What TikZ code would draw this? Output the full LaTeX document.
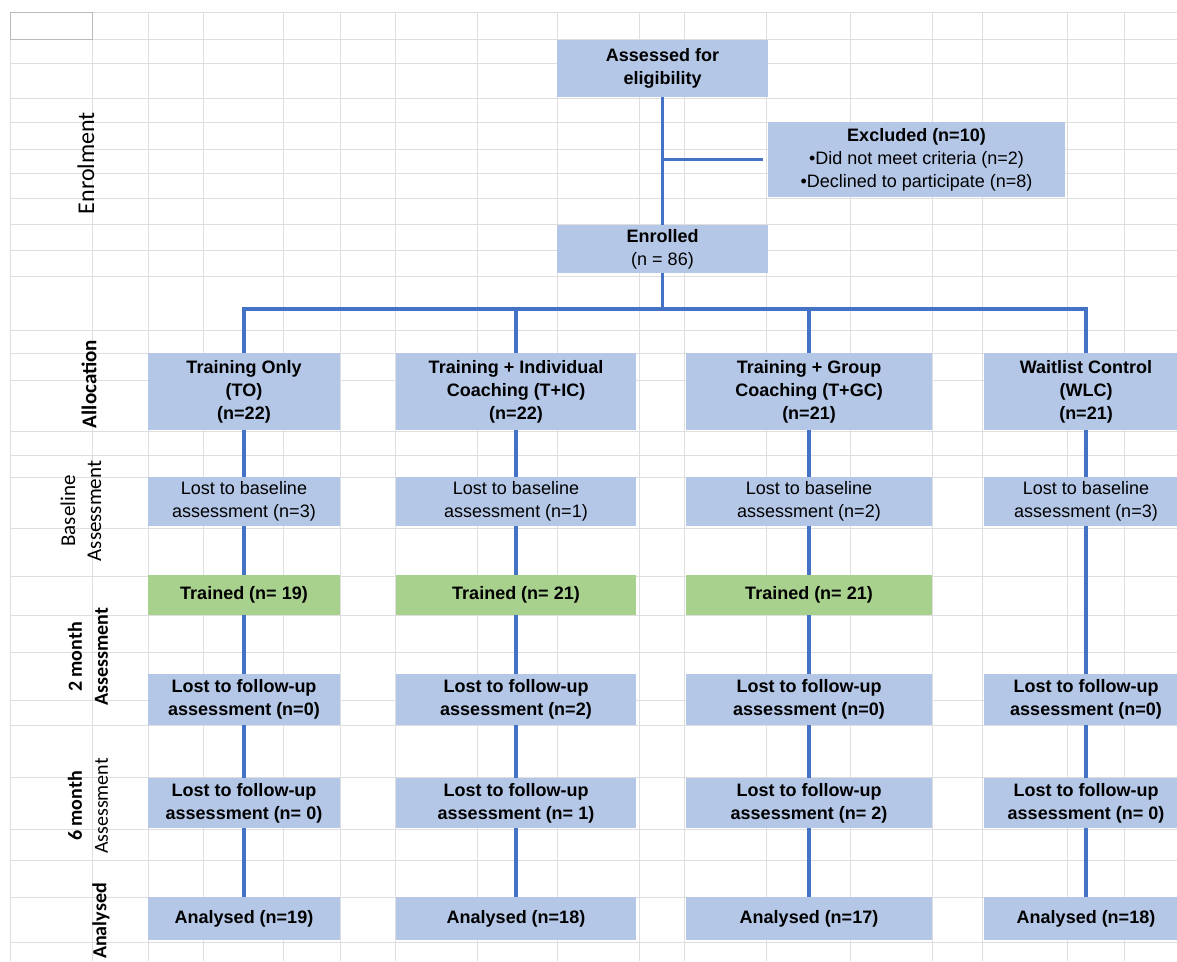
\documentclass[tikz,border=0pt]{standalone}
\usepackage{fontspec}
\setmainfont{Liberation Sans}
\newfontfamily\lblfont{Carlito}
\usepackage{xcolor}
\definecolor{boxblue}{RGB}{180,199,231}
\definecolor{boxgreen}{RGB}{169,209,142}
\definecolor{linkblue}{RGB}{68,114,196}
\definecolor{cellgrid}{RGB}{222,222,222}

\begin{document}
\begin{tikzpicture}[x=1pt,y=-1pt,
   box/.style={fill=boxblue,inner sep=0pt,align=center,font=\fontsize{18}{23}\selectfont},
   hd/.style={box,font=\fontsize{18}{23}\selectfont\bfseries},
   trained/.style={hd,fill=boxgreen},
   col1/.style={minimum width=192pt},
   col2/.style={minimum width=240pt},
   col3/.style={minimum width=246pt},
   col4/.style={minimum width=204pt},
   link/.style={draw=linkblue,line width=3.4pt},
   side/.style={rotate=90,align=center,inner sep=0pt,font=\lblfont\fontsize{21}{26}\selectfont}]
   \useasboundingbox (0,0) rectangle (1177,961);
   \clip (0,0) rectangle (1177,961);
   \fill[white] (0,0) rectangle (1177,961);

   % spreadsheet cells behind
   \foreach \gx in {10,92,148,203,283,340,395,477,557,639,684,766,850,932,982,1067,1124}
      \draw[cellgrid,line width=0.8pt] (\gx,12) -- (\gx,961);
   \foreach \gy in {12,39,63,98,122,149,173,198,224,250,276,330,353,380,431,455,477,528,576,615,652,700,725,777,829,860,897,942}
      \draw[cellgrid,line width=0.8pt] (10,\gy) -- (1177,\gy);
   \draw[gray!55,line width=0.8pt] (10,12) rectangle (92,39);

   % stage labels
   \node[side,font=\lblfont\fontsize{24}{28}\selectfont] (lenr) at (86,163) {Enrolment};
   \node[side,font=\lblfont\fontsize{21}{26}\selectfont\bfseries] (lall) at (89,384) {Allocation};
   \node[side] (lbase) at (81,511) {Baseline\\Assessment};
   \node[side,font=\lblfont\fontsize{20}{26}\selectfont\bfseries] (l2m) at (88,657) {2 month\\Assessment};
   \node[side,font=\lblfont\fontsize{20}{26}\selectfont] (l6m) at (88,806) {{\bfseries 6 month}\\Assessment};
   \node[side,font=\lblfont\fontsize{20}{26}\selectfont\bfseries] (lan) at (101,921) {Analysed};

   % enrolment
   \node[hd,minimum width=211pt,minimum height=57pt] (elig) at (662.5,68.5) {Assessed for\\eligibility};
   \node[box,minimum width=297pt,minimum height=75pt] (excl) at (916.5,159.5)
      {\textbf{Excluded (n=10)}\\{\textbullet}Did not meet criteria (n=2)\\{\textbullet}Declined to participate (n=8)};
   \node[box,minimum width=211pt,minimum height=48pt] (enr) at (662.5,249) {\textbf{Enrolled}\\(n = 86)};
   \coordinate (bus) at (0,309);

   % allocation
   \node[hd,col1,minimum height=77pt] (a1) at (244,391.5) {Training Only\\(TO)\\(n=22)};
   \node[hd,col2,minimum height=77pt] (a2) at (516,391.5) {Training + Individual\\Coaching (T+IC)\\(n=22)};
   \node[hd,col3,minimum height=77pt] (a3) at (809,391.5) {Training + Group\\Coaching (T+GC)\\(n=21)};
   \node[hd,col4,minimum height=77pt] (a4) at (1086,391.5) {Waitlist Control\\(WLC)\\(n=21)};

   % baseline
   \node[box,col1,minimum height=49pt] (b1) at (244,501.5) {Lost to baseline\\assessment (n=3)};
   \node[box,col2,minimum height=49pt] (b2) at (516,501.5) {Lost to baseline\\assessment (n=1)};
   \node[box,col3,minimum height=49pt] (b3) at (809,501.5) {Lost to baseline\\assessment (n=2)};
   \node[box,col4,minimum height=49pt] (b4) at (1086,501.5) {Lost to baseline\\assessment (n=3)};

   \node[trained,col1,minimum height=40pt] (t1) at (244,595) {Trained (n= 19)};
   \node[trained,col2,minimum height=40pt] (t2) at (516,595) {Trained (n= 21)};
   \node[trained,col3,minimum height=40pt] (t3) at (809,595) {Trained (n= 21)};

   % 2 month
   \node[hd,col1,minimum height=51pt] (f1) at (244,699.5) {Lost to follow-up\\assessment (n=0)};
   \node[hd,col2,minimum height=51pt] (f2) at (516,699.5) {Lost to follow-up\\assessment (n=2)};
   \node[hd,col3,minimum height=51pt] (f3) at (809,699.5) {Lost to follow-up\\assessment (n=0)};
   \node[hd,col4,minimum height=51pt] (f4) at (1086,699.5) {Lost to follow-up\\assessment (n=0)};

   % 6 month
   \node[hd,col1,minimum height=50pt] (s1) at (244,803) {Lost to follow-up\\assessment (n= 0)};
   \node[hd,col2,minimum height=50pt] (s2) at (516,803) {Lost to follow-up\\assessment (n= 1)};
   \node[hd,col3,minimum height=50pt] (s3) at (809,803) {Lost to follow-up\\assessment (n= 2)};
   \node[hd,col4,minimum height=50pt] (s4) at (1086,803) {Lost to follow-up\\assessment (n= 0)};

   % analysed
   \node[hd,col1,minimum height=43pt] (n1) at (244,918.5) {Analysed (n=19)};
   \node[hd,col2,minimum height=43pt] (n2) at (516,918.5) {Analysed (n=18)};
   \node[hd,col3,minimum height=43pt] (n3) at (809,918.5) {Analysed (n=17)};
   \node[hd,col4,minimum height=43pt] (n4) at (1086,918.5) {Analysed (n=18)};

   \path[link]
   (elig) edge (enr)
   (elig.south |- excl.west) edge ([xshift=-5pt]excl.west)
   (enr) edge (enr.south |- bus)
   (a2.north |- bus) edge (a2)
   (a3.north |- bus) edge (a3);
   \draw[link] (a1.north) |- (a4.north |- bus) -- (a4.north);

   \path[link]
   (a1) edge (b1) (b1) edge (t1) (t1) edge (f1) (f1) edge (s1) (s1) edge (n1)
   (a2) edge (b2) (b2) edge (t2) (t2) edge (f2) (f2) edge (s2) (s2) edge (n2)
   (a3) edge (b3) (b3) edge (t3) (t3) edge (f3) (f3) edge (s3) (s3) edge (n3)
   (a4) edge (b4) (b4) edge (f4) (f4) edge (s4) (s4) edge (n4);
\end{tikzpicture}
\end{document}
